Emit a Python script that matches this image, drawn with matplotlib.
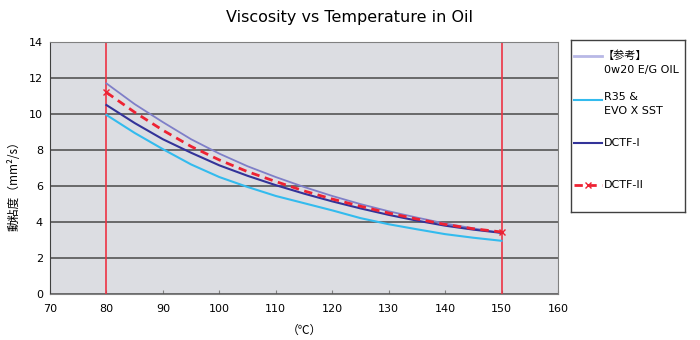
import matplotlib
matplotlib.use("Agg")
import matplotlib.pyplot as plt

# Viscosity vs temperature readings, one list per oil
temps = [80, 85, 90, 95, 100, 105, 110, 115, 120, 125, 130, 135, 140, 145, 150]
oil_0w20 = [11.7, 10.55, 9.55, 8.6, 7.8, 7.1, 6.5, 5.95, 5.45, 5.0, 4.6, 4.25, 3.92, 3.65, 3.4]
r35_evox = [9.95, 8.95, 8.05, 7.2, 6.5, 5.95, 5.45, 5.05, 4.65, 4.22, 3.88, 3.6, 3.33, 3.13, 2.96]
dctf_1 = [10.5, 9.5, 8.6, 7.85, 7.15, 6.57, 6.05, 5.58, 5.15, 4.76, 4.4, 4.08, 3.8, 3.58, 3.4]
dctf_2 = [11.2, 10.1, 9.1, 8.2, 7.45, 6.8, 6.25, 5.73, 5.28, 4.88, 4.5, 4.17, 3.87, 3.63, 3.45]

limit_temps = [80, 150]

CJK = ['Noto Sans CJK JP', 'DejaVu Sans']
plt.rcParams['font.family'] = ['DejaVu Sans', 'Noto Sans CJK JP']

styles = {
    '0w20': dict(color='#7f7fc8', lw=1.3),
    'r35': dict(color='#33bbee', lw=1.5),
    'dctf1': dict(color='#333399', lw=1.5),
    'dctf2': dict(color='#ee2233', lw=2, ls=(0, (3, 2))),
}

fig = plt.figure(figsize=(7, 3.4), dpi=100)
ax = fig.add_axes([0.0714, 0.135, 0.7257, 0.7415])
ax.set_facecolor('#dcdde2')

ax.set_xlim(70, 160)
ax.set_ylim(0, 14)
ax.set_xticks(range(70, 161, 10))
ax.set_yticks(range(0, 15, 2))
ax.yaxis.grid(True, color='#555555', lw=1.2)
ax.set_axisbelow(True)
ax.tick_params(axis='x', direction='in', length=3, color='#808080', labelsize=8, pad=7)
ax.tick_params(axis='y', length=0, labelsize=8, pad=5)
for s in ax.spines.values():
    s.set_color('#808080')
ax.spines['left'].set_color('#404040')

for t in limit_temps:
    ax.axvline(t, color='#ee3344', lw=1.2)

ax.plot(temps, oil_0w20, **styles['0w20'])
ax.plot(temps, r35_evox, **styles['r35'])
ax.plot(temps, dctf_1, **styles['dctf1'])
ax.plot(temps, dctf_2, marker='x', markersize=5, markevery=[0, len(temps) - 1],
        **styles['dctf2'])

fig.text(0.5, 0.948, "Viscosity vs Temperature in Oil", ha='center', va='center',
         fontsize=11.5)
ax.set_xlabel("（℃）", family=CJK, fontsize=8.5, labelpad=7)
ax.set_ylabel("動粘度（mm²/s）", family=CJK, fontsize=8.5)
ax.yaxis.set_label_coords(-0.058, 0.44)

# legend box drawn in its own pixel-scaled axes
lg = fig.add_axes([0.8157, 0.3765, 0.1629, 0.5059])
lg.set_xlim(0, 114)
lg.set_ylim(172, 0)
lg.set_xticks([])
lg.set_yticks([])
for s in lg.spines.values():
    s.set_color('#404040')
    s.set_linewidth(1.0)

lg.plot([3, 31], [16, 16], color='#b8b8e6', lw=2)
lg.text(32, 16, "【参考】", family=CJK, fontsize=8, va='center')
lg.text(33, 30, "0w20 E/G OIL", fontsize=8, va='center')

lg.plot([3, 31], [60, 60], **styles['r35'])
lg.text(33, 57, "R35 &", fontsize=8, va='center')
lg.text(33, 71, "EVO X SST", fontsize=8, va='center')

lg.plot([3, 31], [103, 103], **styles['dctf1'])
lg.text(33, 103, "DCTF-I", fontsize=8, va='center')

lg.plot([3, 31], [145, 145], **styles['dctf2'])
lg.plot([17], [145], marker='x', markersize=5, color='#ee2233', ls='none')
lg.text(33, 145, "DCTF-II", fontsize=8, va='center')

fig.savefig("out.png", dpi=100)
